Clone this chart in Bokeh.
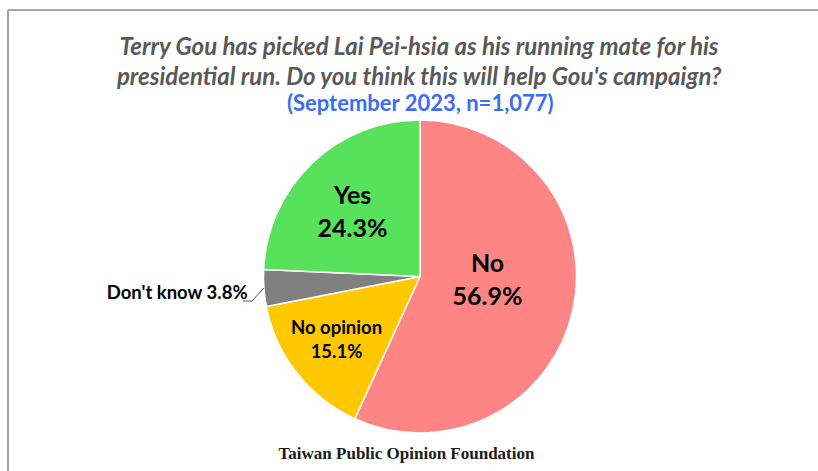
import math
from bokeh.plotting import figure
from bokeh.models import Range1d, ColumnDataSource
from bokeh.core.properties import value
from bokeh.embed import file_html
from bokeh.resources import INLINE

# ---------------- data ----------------
categories = ["No", "No opinion", "Don't know", "Yes"]
percentages = [56.9, 15.1, 3.8, 24.3]
colors = ["#FF8585", "#FFC800", "#808080", "#58E15B"]
title_lines = [
    "Terry Gou has picked Lai Pei-hsia as his running mate for his",
    "presidential run. Do you think this will help Gou's campaign?",
]
subtitle = "(September 2023, n=1,077)"
source_text = "Taiwan Public Opinion Foundation"

# ---------------- layout (screen px) ----------------
W, H = 818, 471
def sy(y):
    return H - y

CX, CY, R = 419.5, sy(276), 156.5

p = figure(width=W, height=H, x_range=Range1d(0, W), y_range=Range1d(0, H),
           output_backend="svg", toolbar_location=None,
           x_axis_type=None, y_axis_type=None,
           min_border=0, min_border_left=0, min_border_right=0,
           min_border_top=0, min_border_bottom=0)
p.grid.visible = False
p.outline_line_color = None
p.background_fill_color = "white"
p.border_fill_color = "white"

# frame lines (top and left) as in the screenshot crop
p.segment(x0=[7.5, 7.5], y0=[sy(9.5), sy(9.5)], x1=[W, 7.5], y1=[sy(9.5), sy(H)],
          line_color="#A6A6A6", line_width=2)

# ---------------- pie ----------------
total = sum(percentages)
starts, ends, mids = [], [], []
cum = 0.0
for v in percentages:
    a0 = math.pi / 2 - 2 * math.pi * cum / total
    cum += v
    a1 = math.pi / 2 - 2 * math.pi * cum / total
    starts.append(a0)
    ends.append(a1)
    mids.append((a0 + a1) / 2)

src = ColumnDataSource(dict(start=starts, end=ends, color=colors, cat=categories))
p.wedge(x=CX, y=CY, radius=R, start_angle="start", end_angle="end",
        direction="clock", fill_color="color", line_color="white",
        line_width=1.5, source=src)

# ---------------- labels ----------------
# offsets of label block centres from pie centre (px, y up), font size, line gap
label_layout = {
    "No": (67.5, -2, 25, 33),
    "Yes": (-67.5, 66, 25, 33),
    "No opinion": (-83.5, -62, 18.5, 24),
}
for cat, pct in zip(categories, percentages):
    if cat not in label_layout:
        continue
    dx, dy, fs, gap = label_layout[cat]
    x = CX + dx
    y = CY + dy
    p.text(x=[x, x], y=[y + gap / 2, y - gap / 2], text=[cat, f"{pct:.1f}%"],
           text_font=value("Lato"), text_font_style="bold",
           text_font_size=f"{fs}px", text_color="black",
           text_align="center", text_baseline="middle")

# "Don't know" outside label with leader line
i = categories.index("Don't know")
ex = CX + R * math.cos(mids[i])
ey = CY + R * math.sin(mids[i])
elbow_x, elbow_y = ex - 12, ey - 13
end_x = elbow_x - 9
p.line(x=[ex, elbow_x, end_x], y=[ey, elbow_y, elbow_y], line_color="#595959", line_width=1)
p.text(x=[end_x + 5], y=[elbow_y + 9],
       text=[f"{categories[i]} {percentages[i]:.1f}%"],
       text_font=value("Lato"), text_font_style="bold", text_font_size="18.5px",
       text_color="black", text_align="right", text_baseline="middle")

# ---------------- titles ----------------
p.text(x=[419, 419], y=[sy(45), sy(75)], text=title_lines,
       text_font=value("Lato"), text_font_style="bold italic", text_font_size="24px",
       text_color="#595959", text_align="center", text_baseline="middle")
p.text(x=[420], y=[sy(102)], text=[subtitle],
       text_font=value("Lato"), text_font_style="bold", text_font_size="22px",
       text_color="#3B6CF6", text_align="center", text_baseline="middle")
p.text(x=[406], y=[sy(453)], text=[source_text],
       text_font=value("Liberation Serif"), text_font_style="bold", text_font_size="17px",
       text_color="#1A1A1A", text_align="center", text_baseline="middle")

open("out.html", "w").write(file_html(p, INLINE))
